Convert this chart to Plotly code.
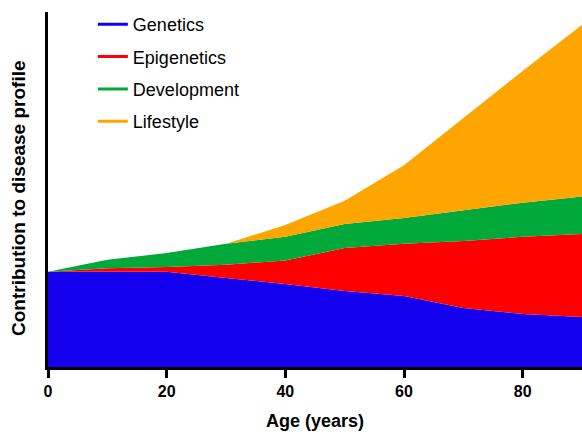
import plotly.graph_objects as go

age = [0, 10, 20, 30, 40, 50, 60, 70, 80, 90]
genetics = [26.8, 26.8, 26.8, 25.1, 23.4, 21.4, 20.0, 16.6, 14.9, 14.1]
epigenetics = [0.0, 1.0, 1.4, 3.7, 6.6, 12.1, 14.7, 18.9, 21.8, 23.4]
development = [0.0, 2.4, 3.9, 5.9, 6.7, 6.8, 7.3, 8.7, 9.6, 10.5]
lifestyle = [0.0, 0.0, 0.0, 0.0, 3.3, 6.5, 14.8, 25.9, 37.1, 48.4]

names = ["Genetics", "Epigenetics", "Development", "Lifestyle"]
series = [genetics, epigenetics, development, lifestyle]
fills = ["#1400EE", "#FF0000", "#00A93A", "#FFA500"]
legend_cols = ["#0F00F5", "#FF0000", "#00A93A", "#FFA500"]

fig = go.Figure()
for n, s, c in zip(names, series, fills):
    fig.add_trace(go.Scatter(x=age, y=s, name=n, stackgroup="one", mode="lines",
                             line=dict(width=0, color=c), fillcolor=c,
                             showlegend=False, hoverinfo="skip"))
for i, (n, c) in enumerate(zip(names, legend_cols)):
    fig.add_trace(go.Scatter(x=[None], y=[None], name=n, mode="lines",
                             line=dict(color=c, width=3), legendgroup=f"g{i}"))

fig.update_layout(
    width=582, height=432,
    margin=dict(l=48, r=0, t=12, b=65),
    paper_bgcolor="white", plot_bgcolor="white",
    font=dict(family="Liberation Sans, Arial, sans-serif", color="black"),
    showlegend=True,
    legend=dict(x=0.084, y=1.017, xanchor="left", yanchor="top",
                font=dict(size=18, color="black"), tracegroupgap=6,
                bgcolor="rgba(0,0,0,0)", itemwidth=30),
    xaxis=dict(range=[0, 90], tickvals=[0, 20, 40, 60, 80],
               showline=True, linecolor="black", linewidth=3,
               ticks="outside", ticklen=8, tickwidth=3, tickcolor="black",
               showgrid=False, zeroline=False,
               tickfont=dict(size=16, family="Liberation Sans, Arial, sans-serif", weight="bold"),
               title=dict(text="<b>Age (years)</b>", font=dict(size=18), standoff=16),
               automargin=False),
    yaxis=dict(range=[0, 100], showline=True, linecolor="black", linewidth=3,
               showticklabels=False, ticks="", showgrid=False, zeroline=False,
               automargin=False),
    annotations=[dict(text="<b>Contribution to disease profile</b>", textangle=-90,
                      xref="paper", yref="paper", x=-0.0562, y=0.476,
                      xanchor="center", yanchor="middle", showarrow=False,
                      font=dict(size=19, color="black"))],
)

fig.write_html("out.html", config={"displayModeBar": False},
               post_script="document.body.style.margin='0';document.body.style.overflow='hidden';")
